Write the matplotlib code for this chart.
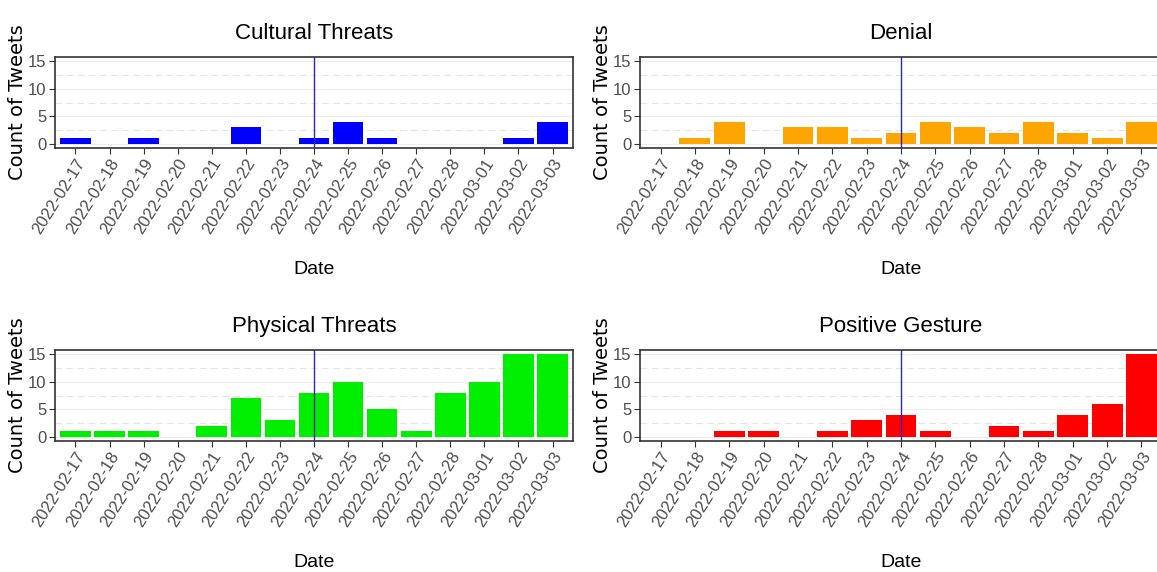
import matplotlib
matplotlib.use('Agg')
import matplotlib.pyplot as plt

# Tweet counts per day, by category
dates = ['2022-02-17', '2022-02-18', '2022-02-19', '2022-02-20', '2022-02-21',
         '2022-02-22', '2022-02-23', '2022-02-24', '2022-02-25', '2022-02-26',
         '2022-02-27', '2022-02-28', '2022-03-01', '2022-03-02', '2022-03-03']
cultural = [1, 0, 1, 0, 0, 3, 0, 1, 4, 1, 0, 0, 0, 1, 4]
denial = [0, 1, 4, 0, 3, 3, 1, 2, 4, 3, 2, 4, 2, 1, 4]
physical = [1, 1, 1, 0, 2, 7, 3, 8, 10, 5, 1, 8, 10, 15, 15]
positive = [0, 0, 1, 1, 0, 1, 3, 4, 1, 0, 2, 1, 4, 6, 15]
titles = ['Cultural Threats', 'Denial', 'Physical Threats', 'Positive Gesture']
colors = ['#0000ff', '#ffa500', '#00ee00', '#ff0000']
event_date = '2022-02-24'

font = ['Liberation Sans', 'DejaVu Sans']

W, H = 1157, 572
fig = plt.figure(figsize=(W / 100, H / 100), dpi=100)

# panel boxes in pixels: left, top, right, bottom
boxes = [(55, 57, 573, 148), (640, 57, 1162, 148),
         (55, 350, 573, 441), (640, 350, 1162, 441)]

series = [cultural, denial, physical, positive]
x = list(range(len(dates)))
for box, vals, title, col in zip(boxes, series, titles, colors):
    l, t, r, b = box
    ax = fig.add_axes([l / W, 1 - b / H, (r - l) / W, (b - t) / H])
    ax.set_axisbelow(True)
    for y in [2.5, 7.5, 12.5]:
        ax.axhline(y, color='#e4e4e4', lw=0.8, ls=(0, (6, 4)), zorder=0)
    for y in [0, 5, 10, 15]:
        ax.axhline(y, color='#ececec', lw=0.8, zorder=0)
    ax.bar(x, vals, width=0.9, color=col, zorder=2)
    ax.axvline(dates.index(event_date), color='#2b2bb0', lw=1, zorder=3)
    ax.set_xlim(-0.6, len(dates) - 0.4)
    ax.set_ylim(-0.75, 15.75)
    ax.set_yticks([0, 5, 10, 15])
    ax.set_xticks(x)
    ax.set_xticklabels(dates, rotation=58, ha='right', rotation_mode='anchor',
                       family=font, fontsize=12, color='#4d4d4d')
    for lab in ax.get_yticklabels():
        lab.set_family(font)
        lab.set_fontsize(12)
        lab.set_color('#4d4d4d')
    ax.tick_params(length=4, width=0.8, color='#333333', pad=2)
    for s in ax.spines.values():
        s.set_color('#333333')
        s.set_linewidth(1.2)
    ax.set_title(title, family=font, fontsize=16, pad=13)
    ax.set_xlabel('Date', family=font, fontsize=14, labelpad=17)
    ax.set_ylabel('Count of Tweets', fontsize=14, labelpad=1)

plt.savefig('out.png', dpi=100)
